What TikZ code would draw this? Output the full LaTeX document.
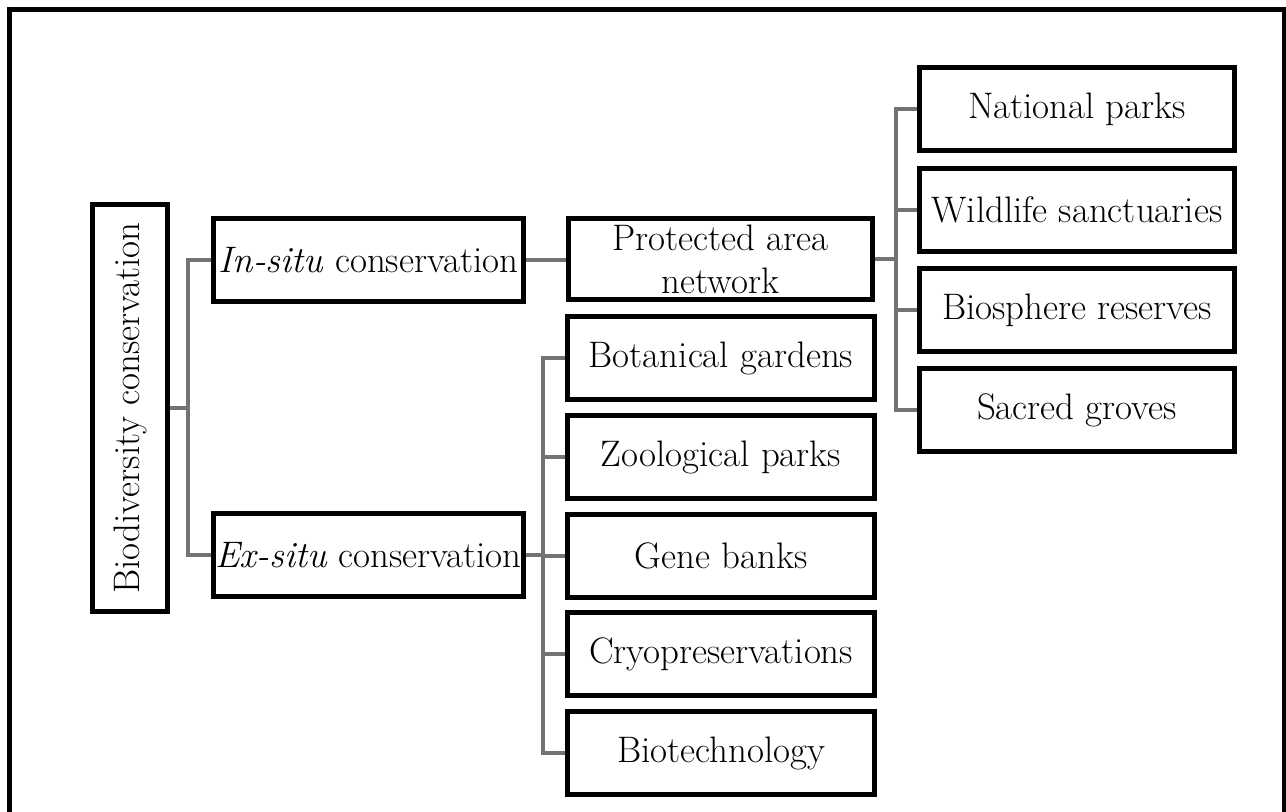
\documentclass[tikz,border=0pt]{standalone}
\usepackage{graphicx}
\usetikzlibrary{positioning, calc, backgrounds}

\begin{document}
\begin{tikzpicture}[
  x=0.02cm, y=-0.02cm,
  every node/.style={font=\fontsize{21}{24.5}\selectfont},
  box/.style={draw, line width=0.1cm, inner sep=0pt, align=center},
  topbox/.style={box, minimum width=6.22cm, minimum height=1.68cm},
  midbox/.style={box, minimum width=6.16cm, minimum height=1.66cm},
  leafbox/.style={box, minimum width=6.32cm, minimum height=1.68cm},
  link/.style={draw=black!55, line width=0.08cm},
]
\useasboundingbox (0,0) rectangle (1286,812);

% outer frame (open at the bottom)
\draw[line width=0.1cm] (9.5,812) -- (9.5,9.5) -- (1284.5,9.5) -- (1284.5,812);

% root
\node[box, minimum width=1.52cm, minimum height=8.14cm] (bio) at (130,408)
  {\rotatebox{90}{Biodiversity conservation}};

% two approaches
\node[topbox] (insitu) at (368.5,260) {\textit{In-situ} conservation};
\node[topbox] (exsitu) at (368.5,555) {\textit{Ex-situ} conservation};

% in-situ side
\node[box, minimum width=6.1cm, minimum height=1.64cm] (pan) at (720.5,259)
  {Protected area\\network};
\node[leafbox] (natpark) at (1077,109) {National parks};
\node[leafbox] (wildlife) at (1077,210) {Wildlife sanctuaries};
\node[leafbox] (biosph) at (1077,310) {Biosphere reserves};
\node[leafbox] (sacred) at (1077,410) {Sacred groves};

% ex-situ side
\node[midbox] (botgard) at (721,358) {Botanical gardens};
\node[midbox] (zoopark) at (721,457) {Zoological parks};
\node[midbox] (genebank) at (721,556) {Gene banks};
\node[midbox] (cryo) at (721,654) {Cryopreservations};
\node[midbox] (biotech) at (721,753) {Biotechnology};

% connectors
\begin{scope}[on background layer]
\foreach \n in {insitu, exsitu}
  \draw[link] (bio.east) -| ($(\n.west)+(-23,0)$) -- (\n.west);
\draw[link] (insitu.east) -- (insitu.east -| pan.west);
\foreach \n in {natpark, wildlife, biosph, sacred}
  \draw[link] (pan.east) -| ($(\n.west)+(-21,0)$) -- (\n.west);
\foreach \n in {botgard, zoopark, genebank, cryo, biotech}
  \draw[link] (exsitu.east) -| ($(\n.west)+(-22,0)$) -- (\n.west);
\end{scope}

\end{tikzpicture}
\end{document}
